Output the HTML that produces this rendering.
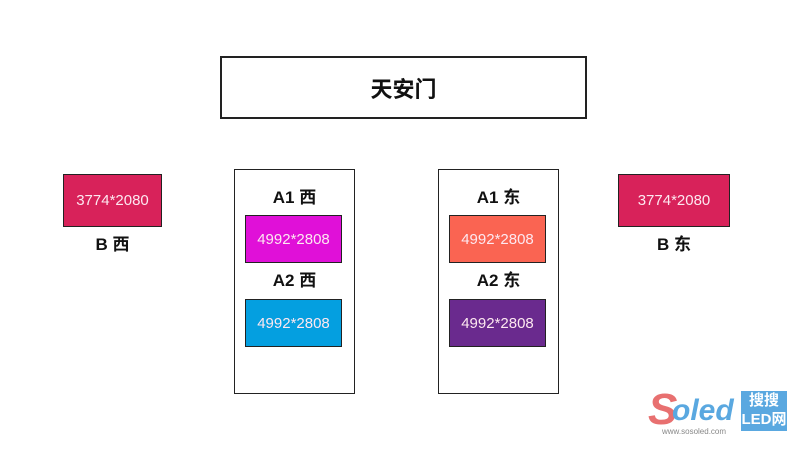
<!DOCTYPE html>
<html><head><meta charset="utf-8"><style>
body{margin:0;width:800px;height:450px;background:#fff;position:relative;overflow:hidden;font-family:"Liberation Sans","Noto Sans CJK SC",sans-serif}
.b{position:absolute;box-sizing:border-box;border:1.5px solid #222}
.c{display:flex;align-items:center;justify-content:center;color:#fde8f0;font-size:15px}
.t{position:absolute;font-weight:bold;font-size:17px;color:#111;text-align:center}
</style></head><body>
<div class="b c" style="left:220px;top:56px;width:367px;height:63px;border-width:2px;color:#111;font-size:22px;font-weight:bold">天安门</div>
<div class="b c" style="left:63px;top:174px;width:99px;height:53px;background:#d8225a">3774*2080</div>
<div class="t" style="left:63px;top:230px;width:99px">B 西</div>
<div class="b c" style="left:618px;top:174px;width:112px;height:53px;background:#d8225a">3774*2080</div>
<div class="t" style="left:618px;top:230px;width:112px">B 东</div>
<div class="b" style="left:234px;top:169px;width:121px;height:225px"></div>
<div class="t" style="left:234px;top:183px;width:121px">A1 西</div>
<div class="b c" style="left:245px;top:215px;width:97px;height:48px;background:#e010d8">4992*2808</div>
<div class="t" style="left:234px;top:266px;width:121px">A2 西</div>
<div class="b c" style="left:245px;top:299px;width:97px;height:48px;background:#049fe0">4992*2808</div>
<div class="b" style="left:438px;top:169px;width:121px;height:225px"></div>
<div class="t" style="left:438px;top:183px;width:121px">A1 东</div>
<div class="b c" style="left:449px;top:215px;width:97px;height:48px;background:#fa6452">4992*2808</div>
<div class="t" style="left:438px;top:266px;width:121px">A2 东</div>
<div class="b c" style="left:449px;top:299px;width:97px;height:48px;background:#6a2a8e">4992*2808</div>
<div style="position:absolute;left:648px;top:388px;font-size:44px;font-style:italic;font-weight:bold;color:#e87070;line-height:44px">S</div>
<div style="position:absolute;left:672px;top:393px;font-size:30px;font-style:italic;font-weight:bold;color:#5aa8e0;line-height:36px">oled</div>
<div style="position:absolute;left:741px;top:391px;width:46px;height:40px;background:#5aa8e0;color:#fff;font-size:15px;line-height:19px;text-align:center;font-weight:bold">搜搜<br>LED网</div>
<div style="position:absolute;left:662px;top:427px;font-size:8px;color:#888">www.sosoled.com</div>
</body></html>
